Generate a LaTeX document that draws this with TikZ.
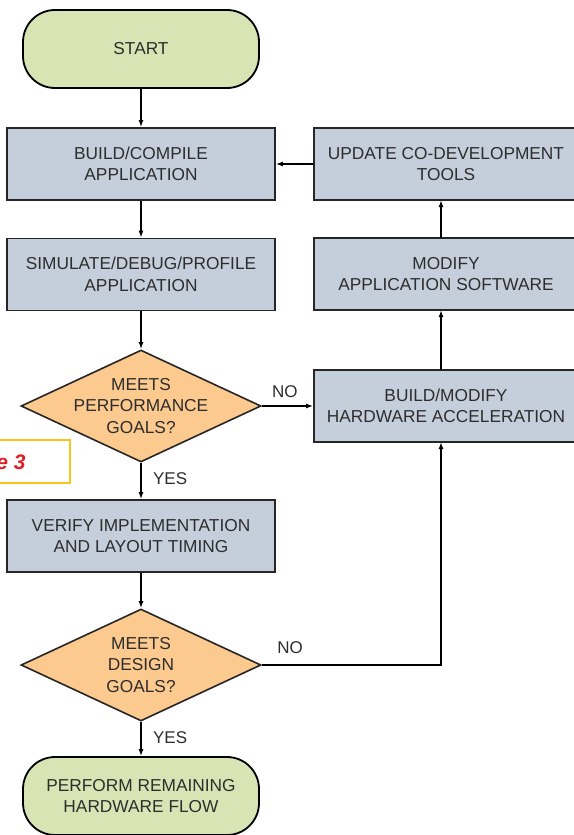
\documentclass[tikz,border=0pt]{standalone}
\usepackage{fontspec}
\setmainfont{Liberation Sans}
\usetikzlibrary{shapes.geometric,arrows.meta}
\definecolor{termfill}{RGB}{217,228,181}
\definecolor{procfill}{RGB}{197,207,220}
\definecolor{decfill}{RGB}{252,201,142}
\definecolor{txt}{RGB}{45,45,45}
\definecolor{figyellow}{RGB}{248,196,30}
\definecolor{figred}{RGB}{222,30,40}
\begin{document}
\begin{tikzpicture}[x=1pt,y=-1pt,
  every node/.style={font=\fontsize{17.3}{21.5}\selectfont, text=txt, align=center},
  term/.style={draw=black, line width=1.8pt, fill=termfill, rounded corners=32pt, minimum width=236pt, minimum height=78pt, inner sep=0pt},
  proc/.style={draw=black!85, line width=1.8pt, fill=procfill, minimum width=268pt, minimum height=72pt, inner sep=0pt},
  dec/.style={draw=black!85, line width=1.6pt, fill=decfill, diamond, aspect=2.14, minimum width=240pt, minimum height=112pt, inner sep=0pt},
  conn/.style={line width=1.5pt, -{Latex[length=7pt,width=5pt]}},
  lbl/.style={font=\fontsize{17}{20}\selectfont}]
\useasboundingbox (0,0) rectangle (573,835);
\fill[white] (0,0) rectangle (573,835);
% figure label fragment
\node[draw=figyellow, line width=1.6pt, minimum width=100pt, minimum height=43pt, inner sep=0pt] (figbox) at (20,461.5) {};
\node[text=figred, font=\fontsize{21}{24}\selectfont\bfseries\itshape, anchor=east] (figtxt) at (29,462) {e 3};
% left column
\node[term] (start) at (141,49) {START};
\node[proc] (build) at (141,164) {BUILD/COMPILE\\APPLICATION};
\node[proc] (sim) at (141,274.5) {SIMULATE/DEBUG/PROFILE\\APPLICATION};
\node[dec] (perf) at (141,406) {};
\node (perftext) at (perf.center) {MEETS\\PERFORMANCE\\GOALS?};
\node[proc] (verify) at (141,536) {VERIFY IMPLEMENTATION\\AND LAYOUT TIMING};
\node[dec] (design) at (141,665) {};
\node (designtext) at (design.center) {MEETS\\DESIGN\\GOALS?};
\node[term] (perform) at (141,796) {PERFORM REMAINING\\HARDWARE FLOW};
% right column
\node[proc, minimum width=264pt] (update) at (446,164) {UPDATE CO-DEVELOPMENT\\TOOLS};
\node[proc, minimum width=264pt] (modify) at (446,274) {MODIFY\\APPLICATION SOFTWARE};
\node[proc, minimum width=264pt] (hw) at (446,406) {BUILD/MODIFY\\HARDWARE ACCELERATION};
% connectors
\draw[conn] (start) -- (build);
\draw[conn] (build) -- (sim);
\draw[conn] (sim) -- (perf);
\draw[conn] (perf) -- (verify) node[pos=0.45, right=8pt, lbl] (yes1) {YES};
\draw[conn] (verify) -- (design);
\draw[conn] (design) -- (perform) node[pos=0.45, right=8pt, lbl] (yes2) {YES};
\draw[conn] (perf.east) -- (hw.west) node[pos=0.45, above=4pt, lbl] (no1) {NO};
\coordinate (corner) at (441,665);
\draw[conn] (design.east) -- (corner) -- (441,442);
\node[lbl] (no2) at (290,648) {NO};
\draw[conn] (441,370) -- (441,310);
\draw[conn] (441,238) -- (441,200);
\draw[conn] (update.west) -- (build.east);
\end{tikzpicture}
\end{document}
